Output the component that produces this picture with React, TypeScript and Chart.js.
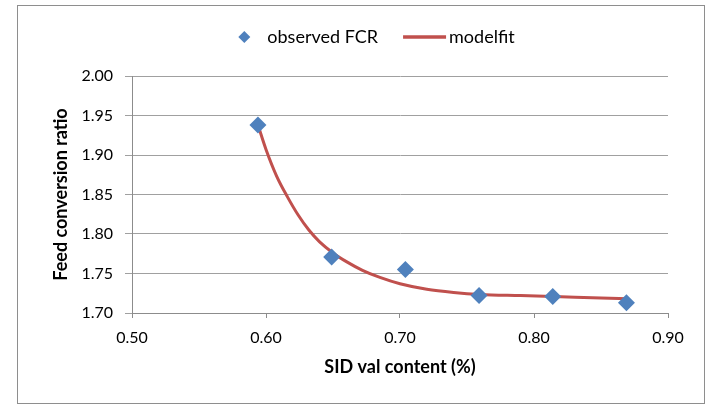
import React, { useEffect, useRef } from "react";
import { Chart, registerables } from "chart.js";

Chart.register(...registerables);

// ---- data ----
const sidVal = [0.594, 0.649, 0.704, 0.759, 0.814, 0.869];
const observedFcr = [1.938, 1.771, 1.755, 1.722, 1.721, 1.713];

const fitX = [0.594, 0.6, 0.608, 0.616, 0.624, 0.632, 0.64, 0.65, 0.66, 0.672, 0.685, 0.7, 0.72, 0.74, 0.76, 0.79, 0.82, 0.85, 0.869];
const fitY = [1.938, 1.907, 1.873, 1.847, 1.824, 1.805, 1.79, 1.776, 1.765, 1.754, 1.745, 1.737, 1.73, 1.726, 1.7235, 1.722, 1.7205, 1.719, 1.718];

const seriesNames = ["observed FCR", "modelfit"];
const xTitle = "SID val content (%)";
const yTitle = "Feed conversion ratio";

const BLUE = "#4f81bd";
const RED = "#c0504d";
const FONT = "Lato";

const legendPlugin = {
  id: "customLegend",
  afterDraw(chart: any) {
    const ctx = chart.ctx as CanvasRenderingContext2D;
    const ds = chart.data.datasets;
    ctx.save();
    ctx.font = `18px ${FONT}`;
    ctx.textBaseline = "middle";
    ctx.fillStyle = "#000";
    const y = 37;
    const w0 = ctx.measureText(ds[0].label).width;
    const w1 = ctx.measureText(ds[1].label).width;
    const total = 30 + w0 + 25 + 46 + w1;
    let x = 376 - total / 2;
    // diamond
    ctx.fillStyle = ds[0].backgroundColor;
    ctx.beginPath();
    ctx.moveTo(x + 7 - 6, y);
    ctx.lineTo(x + 7, y - 6);
    ctx.lineTo(x + 7 + 6, y);
    ctx.lineTo(x + 7, y + 6);
    ctx.closePath();
    ctx.fill();
    ctx.fillStyle = "#000";
    ctx.fillText(ds[0].label, x + 30, y);
    x += 30 + w0 + 25;
    ctx.strokeStyle = ds[1].borderColor;
    ctx.lineWidth = 3.5;
    ctx.beginPath();
    ctx.moveTo(x, y);
    ctx.lineTo(x + 43, y);
    ctx.stroke();
    ctx.fillText(ds[1].label, x + 46, y);
    ctx.restore();
  },
};

export default function App() {
  const ref = useRef<HTMLCanvasElement | null>(null);
  useEffect(() => {
    if (!ref.current) return;
    const chart = new Chart(ref.current, {
      type: "scatter",
      data: {
        datasets: [
          {
            label: seriesNames[0],
            data: sidVal.map((x, i) => ({ x, y: observedFcr[i] })),
            backgroundColor: BLUE,
            borderColor: BLUE,
            borderWidth: 0,
            pointStyle: "rectRot",
            pointRadius: 8.5,
            pointHoverRadius: 8.5,
            showLine: false,
          } as any,
          {
            type: "line",
            label: seriesNames[1],
            data: fitX.map((x, i) => ({ x, y: fitY[i] })),
            borderColor: RED,
            backgroundColor: RED,
            borderWidth: 3,
            pointRadius: 0,
            cubicInterpolationMode: "monotone",
            fill: false,
          } as any,
        ],
      },
      options: {
        responsive: false,
        animation: false,
        layout: { padding: { left: 8, top: 76, right: 43, bottom: 20 } },
        plugins: { legend: { display: false }, tooltip: { enabled: false } },
        scales: {
          x: {
            type: "linear",
            min: 0.5,
            max: 0.9,
            afterFit: (s: any) => {
              s.height = 73;
            },
            ticks: {
              stepSize: 0.1,
              padding: 10,
              color: "#000",
              font: { family: FONT, size: 16 },
              callback: (v: any) => Number(v).toFixed(2),
            },
            grid: { drawOnChartArea: false, drawTicks: true, tickLength: 5, color: "#8c8c8c" },
            border: { color: "#8c8c8c", width: 1 },
            title: {
              display: true,
              text: xTitle,
              color: "#000",
              font: { family: FONT, size: 18, weight: "bold" },
              padding: { top: 0, bottom: 8 },
            },
          },
          y: {
            type: "linear",
            min: 1.7,
            max: 2.0,
            afterFit: (s: any) => {
              s.width = 124;
            },
            ticks: {
              stepSize: 0.05,
              padding: 12,
              color: "#000",
              font: { family: FONT, size: 16 },
              callback: (v: any) => Number(v).toFixed(2),
            },
            grid: { drawTicks: true, tickLength: 7, color: "#a0a0a0" },
            border: { color: "#8c8c8c", width: 1 },
            title: {
              display: true,
              text: yTitle,
              color: "#000",
              font: { family: FONT, size: 18, weight: "bold" },
              padding: { top: 42, bottom: 0 },
            },
          },
        },
      },
      plugins: [legendPlugin],
    });
    return () => chart.destroy();
  }, []);

  return (
    <div style={{ position: "absolute", left: 0, top: 0, width: 711, height: 406, background: "#fff" }}>
      <div
        style={{
          position: "absolute",
          left: 17,
          top: 5,
          width: 688,
          height: 399,
          border: "1px solid #8e8e8e",
          boxSizing: "border-box",
        }}
      />
      <canvas ref={ref} width={711} height={406} style={{ position: "absolute", left: 0, top: 0 }} />
    </div>
  );
}
